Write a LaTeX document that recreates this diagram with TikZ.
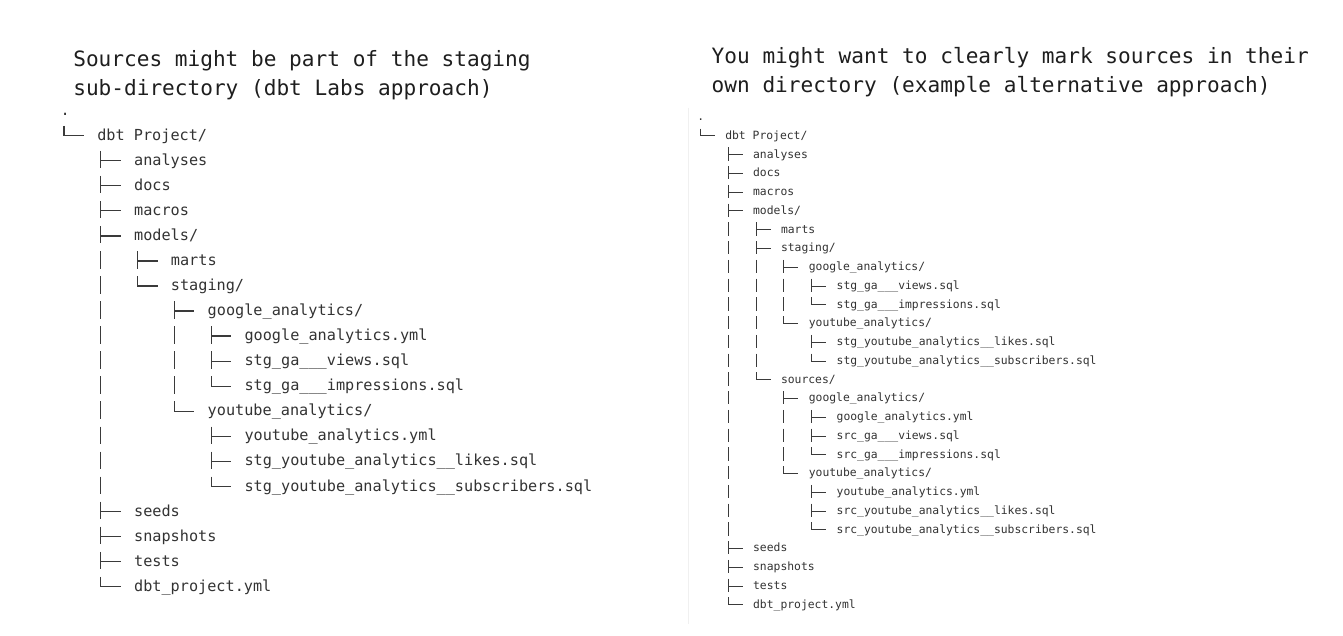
\documentclass[tikz,border=0pt]{standalone}
\usepackage{fontspec}
\newfontfamily\ttlfont{DejaVu Sans Mono}
\newfontfamily\trfont{DejaVu Sans Mono}
\definecolor{ink}{HTML}{1E1E1E}
\definecolor{treeink}{HTML}{333333}
\definecolor{treestroke}{HTML}{3A3A3A}
\definecolor{panel}{HTML}{F0F0F0}
\tikzset{
  titletext/.style={anchor=base west, inner sep=0pt, outer sep=0pt, text=ink,
    font=\ttlfont\fontsize{21.1pt}{25pt}\selectfont},
  ltree/.style={anchor=base west, inner sep=0pt, outer sep=0pt, text=treeink,
    font=\trfont\fontsize{15.2pt}{18pt}\selectfont},
  rtree/.style={anchor=base west, inner sep=0pt, outer sep=0pt, text=treeink,
    font=\trfont\fontsize{11.36pt}{14pt}\selectfont},
  lline/.style={draw=treestroke, line width=1.3pt},
  rline/.style={draw=treestroke, line width=1pt},
}
% #1 name, #2 level, #3 row, #4 kind (T, L or N), #5 continuation bars, #6 text
\newcommand\trow[6]{%
  \pgfmathsetmacro\xt{\TX+\TS*(#2)}%
  \pgfmathsetmacro\yc{\RY+\RS*(#3)}%
  \pgfmathsetmacro\xc{\xt-\CC}%
  \node[trtext] (#1) at (\xt,\yc+\BO) {#6};
  \if#4T\draw[trline] (\xc,\yc-\VU) -- (\xc,\yc+\VD) (\xc,\yc) -- (\xc+\HL,\yc);\fi
  \if#4L\draw[trline] (\xc,\yc-\VU) -- (\xc,\yc) -- (\xc+\HL,\yc);\fi
  \if\relax\detokenize{#5}\relax\else
    \foreach \bb in {#5}{\pgfmathsetmacro\xb{\TX+\TS*\bb-\CC}\draw[trline] (\xb,\yc-\VU) -- (\xb,\yc+\VD);}%
  \fi
}
\begin{document}
\begin{tikzpicture}[x=1pt,y=-1pt]
\useasboundingbox[fill=white] (0,0) rectangle (1343,636);

% faint edge of the right panel
\draw[panel, line width=1pt] (688,108) -- (688,624);

% titles
\node[titletext] (ltitle1) at (73.3,66.7) {Sources might be part of the staging};
\node[titletext] (ltitle2) at (73.3,96) {sub-directory (dbt Labs approach)};
\node[titletext] (rtitle1) at (711.7,63.3) {You might want to clearly mark sources in their};
\node[titletext] (rtitle2) at (711.7,92.7) {own directory (example alternative approach)};

% ---------------- left tree ----------------
\def\TX{97.3}\def\TS{36.8}\def\RY{135.7}\def\RS{25.05}\def\BO{4.6}
\def\CC{33.3}\def\HL{20}\def\VU{9.8}\def\VD{7.6}
\tikzset{trtext/.style={ltree}, trline/.style={lline}}
\trow{lroot}{-1}{-1}{N}{}{.}
\trow{lproj}{0}{0}{L}{}{dbt Project/}
\trow{lana}{1}{1}{T}{}{analyses}
\trow{ldocs}{1}{2}{T}{}{docs}
\trow{lmac}{1}{3}{T}{}{macros}
\trow{lmod}{1}{4}{T}{}{models/}
\trow{lmarts}{2}{5}{T}{1}{marts}
\trow{lstg}{2}{6}{L}{1}{staging/}
\trow{lga}{3}{7}{T}{1}{google\_analytics/}
\trow{lgayml}{4}{8}{T}{1,3}{google\_analytics.yml}
\trow{lgav}{4}{9}{T}{1,3}{stg\_ga\_\_\_views.sql}
\trow{lgai}{4}{10}{L}{1,3}{stg\_ga\_\_\_impressions.sql}
\trow{lyt}{3}{11}{L}{1}{youtube\_analytics/}
\trow{lytyml}{4}{12}{T}{1}{youtube\_analytics.yml}
\trow{lytl}{4}{13}{T}{1}{stg\_youtube\_analytics\_\_likes.sql}
\trow{lyts}{4}{14}{L}{1}{stg\_youtube\_analytics\_\_subscribers.sql}
\trow{lseeds}{1}{15}{T}{}{seeds}
\trow{lsnap}{1}{16}{T}{}{snapshots}
\trow{ltests}{1}{17}{T}{}{tests}
\trow{lyml}{1}{18}{L}{}{dbt\_project.yml}

% ---------------- right tree ----------------
\def\TX{725.3}\def\TS{27.85}\def\RY{136}\def\RS{18.75}\def\BO{3.4}
\def\CC{25}\def\HL{14.5}\def\VU{7.4}\def\VD{5.8}
\tikzset{trtext/.style={rtree}, trline/.style={rline}}
\trow{rroot}{-1}{-1}{N}{}{.}
\trow{rproj}{0}{0}{L}{}{dbt Project/}
\trow{rana}{1}{1}{T}{}{analyses}
\trow{rdocs}{1}{2}{T}{}{docs}
\trow{rmac}{1}{3}{T}{}{macros}
\trow{rmod}{1}{4}{T}{}{models/}
\trow{rmarts}{2}{5}{T}{1}{marts}
\trow{rstg}{2}{6}{T}{1}{staging/}
\trow{rsga}{3}{7}{T}{1,2}{google\_analytics/}
\trow{rsgav}{4}{8}{T}{1,2,3}{stg\_ga\_\_\_views.sql}
\trow{rsgai}{4}{9}{L}{1,2,3}{stg\_ga\_\_\_impressions.sql}
\trow{rsyt}{3}{10}{L}{1,2}{youtube\_analytics/}
\trow{rsytl}{4}{11}{T}{1,2}{stg\_youtube\_analytics\_\_likes.sql}
\trow{rsyts}{4}{12}{L}{1,2}{stg\_youtube\_analytics\_\_subscribers.sql}
\trow{rsrc}{2}{13}{L}{1}{sources/}
\trow{rcga}{3}{14}{T}{1}{google\_analytics/}
\trow{rcgayml}{4}{15}{T}{1,3}{google\_analytics.yml}
\trow{rcgav}{4}{16}{T}{1,3}{src\_ga\_\_\_views.sql}
\trow{rcgai}{4}{17}{L}{1,3}{src\_ga\_\_\_impressions.sql}
\trow{rcyt}{3}{18}{L}{1}{youtube\_analytics/}
\trow{rcytyml}{4}{19}{T}{1}{youtube\_analytics.yml}
\trow{rcytl}{4}{20}{T}{1}{src\_youtube\_analytics\_\_likes.sql}
\trow{rcyts}{4}{21}{L}{1}{src\_youtube\_analytics\_\_subscribers.sql}
\trow{rseeds}{1}{22}{T}{}{seeds}
\trow{rsnap}{1}{23}{T}{}{snapshots}
\trow{rtests}{1}{24}{T}{}{tests}
\trow{ryml}{1}{25}{L}{}{dbt\_project.yml}
\end{tikzpicture}
\end{document}
